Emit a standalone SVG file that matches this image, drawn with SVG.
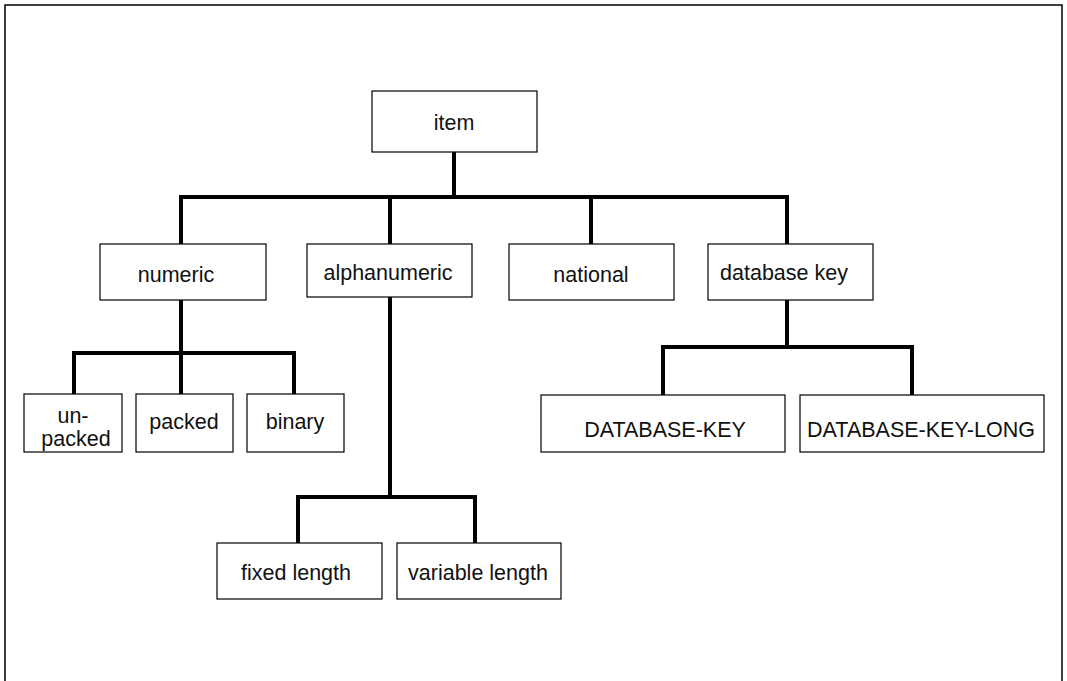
<svg xmlns="http://www.w3.org/2000/svg" width="1067" height="681" viewBox="0 0 1067 681">
<style>
.box{fill:#fff;stroke:#000;stroke-width:1.2}
.lbl{font-family:"Liberation Sans",Arial,sans-serif;font-size:21.5px;fill:#111;text-anchor:middle}
.con{fill:none;stroke:#000;stroke-width:4;stroke-linecap:square}
</style>
<rect width="1067" height="681" fill="#fff"/>
<path d="M5,681 V5 H1062 V681" fill="none" stroke="#000" stroke-width="1.5"/>
<g id="connectors">
<path class="con" d="M454,152 V197 M181,244 V197 H787 V244 M390,197 V244 M591,197 V244"/>
<path class="con" d="M181,300 V353 M74,394 V353 H294 V394 M181,353 V394"/>
<path class="con" d="M390,297 V497 M298,543 V497 H475 V543"/>
<path class="con" d="M787,300 V347 M663,395 V347 H912 V395"/>
</g>
<g id="item"><rect class="box" x="372" y="91" width="165" height="61"/><text class="lbl" x="454" y="130">item</text></g>
<g id="numeric"><rect class="box" x="100" y="244" width="166" height="56"/><text class="lbl" x="176" y="282">numeric</text></g>
<g id="alphanumeric"><rect class="box" x="307" y="244" width="165" height="53"/><text class="lbl" x="388" y="280">alphanumeric</text></g>
<g id="national"><rect class="box" x="509" y="244" width="165" height="56"/><text class="lbl" x="591" y="282">national</text></g>
<g id="database-key"><rect class="box" x="708" y="244" width="165" height="56"/><text class="lbl" x="784" y="280">database key</text></g>
<g id="unpacked"><rect class="box" x="24" y="394" width="98" height="58"/><text class="lbl" x="73" y="423">un-</text><text class="lbl" x="76" y="446">packed</text></g>
<g id="packed"><rect class="box" x="136" y="394" width="97" height="58"/><text class="lbl" x="184" y="429">packed</text></g>
<g id="binary"><rect class="box" x="247" y="394" width="97" height="58"/><text class="lbl" x="295" y="429">binary</text></g>
<g id="DATABASE-KEY"><rect class="box" x="541" y="395" width="244" height="57"/><text class="lbl" x="665" y="437">DATABASE-KEY</text></g>
<g id="DATABASE-KEY-LONG"><rect class="box" x="800" y="395" width="244" height="57"/><text class="lbl" x="921" y="437">DATABASE-KEY-LONG</text></g>
<g id="fixed-length"><rect class="box" x="217" y="543" width="165" height="56"/><text class="lbl" x="296" y="580">fixed length</text></g>
<g id="variable-length"><rect class="box" x="397" y="543" width="164" height="56"/><text class="lbl" x="478" y="580">variable length</text></g>
</svg>
